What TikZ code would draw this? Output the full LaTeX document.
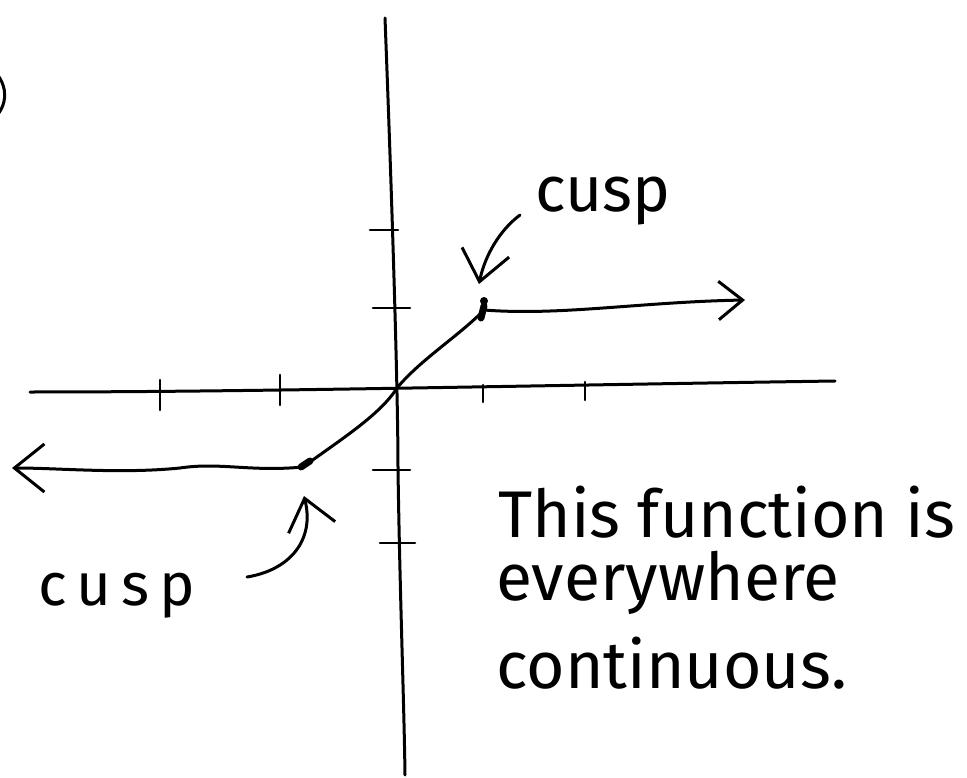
\documentclass[tikz,border=0pt]{standalone}
\usepackage{fontspec}
\setmainfont{Fira Sans}
\usetikzlibrary{arrows.meta}
\tikzset{
  pen/.style={line width=3pt, line cap=round, line join=round, black},
  tickmark/.style={line width=2.6pt, line cap=round},
  hand/.style={font=\fontsize{66}{66}\selectfont, inner sep=0pt, anchor=base west},
  barb/.style={-{Straight Barb[length=#1pt, width=1.6*#1pt, line width=3pt]}},
}
\begin{document}
\begin{tikzpicture}[x=1pt,y=-1pt]
\useasboundingbox (0,0) rectangle (967,778);
% partial label at left edge
\draw[pen] (-20,62) .. controls (10,75) and (10,105) .. (-6,118);
% axes
\coordinate (ytop) at (385,18);
\coordinate (ybot) at (405,775);
\coordinate (xl) at (30,392);
\coordinate (xr) at (835,381);
\draw[pen] (ytop) .. controls (392,200) and (398,390) .. (398,470) .. controls (400,600) and (404,700) .. (ybot);
\draw[pen] (xl) .. controls (250,392) and (500,386) .. (xr);
% ticks on x axis
\draw[tickmark] (160,380) -- (160,410);
\draw[tickmark] (280,375) -- (280,405);
\draw[tickmark] (483,385) -- (483,402);
\draw[tickmark] (585,382) -- (585,400);
% ticks on y axis
\draw[tickmark] (370,230) -- (398,230);
\draw[tickmark] (373,308) -- (410,308);
\draw[tickmark] (373,470) -- (410,470);
\draw[tickmark] (380,543) -- (415,543);
% function
\coordinate (cuspR) at (484,310);
\coordinate (cuspL) at (303,467);
\coordinate (origin) at (397,388);
\draw[pen] (cuspL) .. controls (340,440) and (380,415) .. (origin) .. controls (420,360) and (460,335) .. (cuspR);
\draw[pen, barb=30] (cuspL) .. controls (250,472) and (220,462) .. (180,468) .. controls (120,474) and (60,468) .. (12,468);
\draw[pen, barb=24] (cuspR) .. controls (560,316) and (640,302) .. (745,300);
% cusp dots
\fill (484,301) circle (4pt);
\draw[line width=7pt, line cap=round] (484,306) -- (481,318);
\draw[line width=7pt, line cap=round] (301,467) -- (310,461);
% labels
\node[hand, font=\fontsize{64}{64}\selectfont] (topcusp) at (535,212) {cusp};
\node[hand, font=\fontsize{60}{60}\selectfont] (botcusp) at (38,605) {c\,u\,s\,p};
\node[hand] (note1) at (498,537) {This function is};
\node[hand] (note2) at (496,600) {everywhere};
\node[hand] (note3) at (496,688) {continuous.};
% label arrows
\draw[pen, barb=30] (520,215) .. controls (500,230) and (485,255) .. (479,284);
\draw[pen, barb=30] (247,577) .. controls (290,570) and (315,540) .. (304,496);
\end{tikzpicture}
\end{document}
